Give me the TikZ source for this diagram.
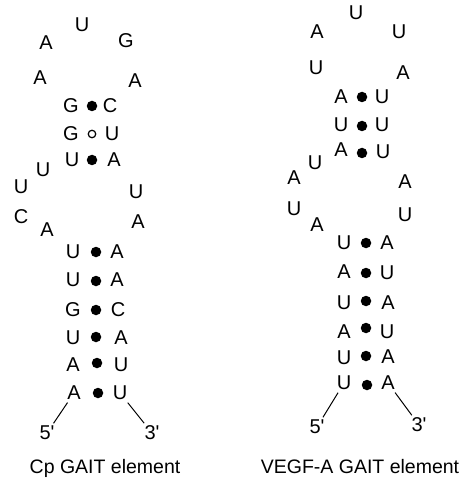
\documentclass[tikz,border=0pt]{standalone}
\usepackage{fontspec}
\setmainfont{Liberation Sans}[Ligatures=TeXOff]
\begin{document}
\begin{tikzpicture}[x=1pt,y=-1pt,
  nt/.style={inner sep=2.5pt,font=\fontsize{20}{20}\selectfont},
  bp/.style={circle,fill=black,inner sep=0pt,minimum size=10.5pt},
  gu/.style={circle,draw=black,line width=1.2pt,inner sep=0pt,minimum size=7.5pt},
  captxt/.style={anchor=base,inner sep=0pt,font=\fontsize{19.5}{19.5}\selectfont},
  tail/.style={line width=1pt}]
\useasboundingbox (0,0) rectangle (463,478);
% ---------- left: Cp GAIT element ----------
\node[nt] (a1) at (82,25) {U};
\node[nt] (a2) at (46,43) {A};
\node[nt] (a3) at (126,41) {G};
\node[nt] (a4) at (40,78) {A};
\node[nt] (a5) at (135,81) {A};
\node[nt] (a6) at (71,106) {G};
\node[bp] (ad1) at (92,106) {};
\node[nt] (a7) at (110,106) {C};
\node[nt] (a8) at (71,134) {G};
\node[gu] (ad2) at (92,134) {};
\node[nt] (a9) at (112,134) {U};
\node[nt] (a10) at (72,160) {U};
\node[bp] (ad3) at (92,160) {};
\node[nt] (a11) at (114,160) {A};
\node[nt] (a12) at (43,170) {U};
\node[nt] (a13) at (21,187) {U};
\node[nt] (a14) at (136,192) {U};
\node[nt] (a15) at (21,217) {C};
\node[nt] (a16) at (47,230) {A};
\node[nt] (a17) at (138,222) {A};
\node[nt] (b1) at (73,252) {U};
\node[bp] (bd1) at (96,252) {};
\node[nt] (c1) at (117,252) {A};
\node[nt] (b2) at (73,280) {U};
\node[bp] (bd2) at (96,281) {};
\node[nt] (c2) at (117,280) {A};
\node[nt] (b3) at (73,310) {G};
\node[bp] (bd3) at (96,310) {};
\node[nt] (c3) at (118,310) {C};
\node[nt] (b4) at (73,338) {U};
\node[bp] (bd4) at (96,337) {};
\node[nt] (c4) at (121,338) {A};
\node[nt] (b5) at (73,365) {A};
\node[bp] (bd5) at (97,363) {};
\node[nt] (c5) at (121,365) {U};
\node[nt] (b6) at (74,393) {A};
\node[bp] (bd6) at (98,393) {};
\node[nt] (c6) at (120,393) {U};
\node[nt] (lf) at (47,433) {5'};
\node[nt] (lt) at (152,433) {3'};
\draw[tail] (b6) -- (lf);
\draw[tail] (c6) -- (lt);
\node[captxt] (lcap) at (105,473) {Cp GAIT element};
% ---------- right: VEGF-A GAIT element ----------
\node[nt] (r1) at (356,13) {U};
\node[nt] (r2) at (317,32) {A};
\node[nt] (r3) at (399,32) {U};
\node[nt] (r4) at (316,68) {U};
\node[nt] (r5) at (403,73) {A};
\node[nt] (r6) at (341,97) {A};
\node[bp] (rd1) at (362,97) {};
\node[nt] (r7) at (382,97) {U};
\node[nt] (r8) at (341,125) {U};
\node[bp] (rd2) at (362,126) {};
\node[nt] (r9) at (382,125) {U};
\node[nt] (r10) at (341,150) {A};
\node[bp] (rd3) at (362,153) {};
\node[nt] (r11) at (383,152) {U};
\node[nt] (r12) at (315,163) {U};
\node[nt] (r13) at (294,178) {A};
\node[nt] (r14) at (405,182) {A};
\node[nt] (r15) at (294,209) {U};
\node[nt] (r16) at (405,215) {U};
\node[nt] (r17) at (317,225) {A};
\node[nt] (s1) at (344,243) {U};
\node[bp] (sd1) at (366,243) {};
\node[nt] (t1) at (387,243) {A};
\node[nt] (s2) at (344,272) {A};
\node[bp] (sd2) at (366,273) {};
\node[nt] (t2) at (387,273) {U};
\node[nt] (s3) at (344,303) {U};
\node[bp] (sd3) at (366,301) {};
\node[nt] (t3) at (388,303) {A};
\node[nt] (s4) at (344,332) {A};
\node[bp] (sd4) at (366,328) {};
\node[nt] (t4) at (387,332) {U};
\node[nt] (s5) at (344,358) {U};
\node[bp] (sd5) at (366,356) {};
\node[nt] (t5) at (388,357) {A};
\node[nt] (s6) at (344,383) {U};
\node[bp] (sd6) at (367,385) {};
\node[nt] (t6) at (388,383) {A};
\node[nt] (rf) at (317,427) {5'};
\node[nt] (rt) at (419,425) {3'};
\draw[tail] (s6) -- (rf);
\draw[tail] (t6) -- (rt);
\node[captxt] (rcap) at (360,473) {VEGF-A GAIT element};
\end{tikzpicture}
\end{document}
